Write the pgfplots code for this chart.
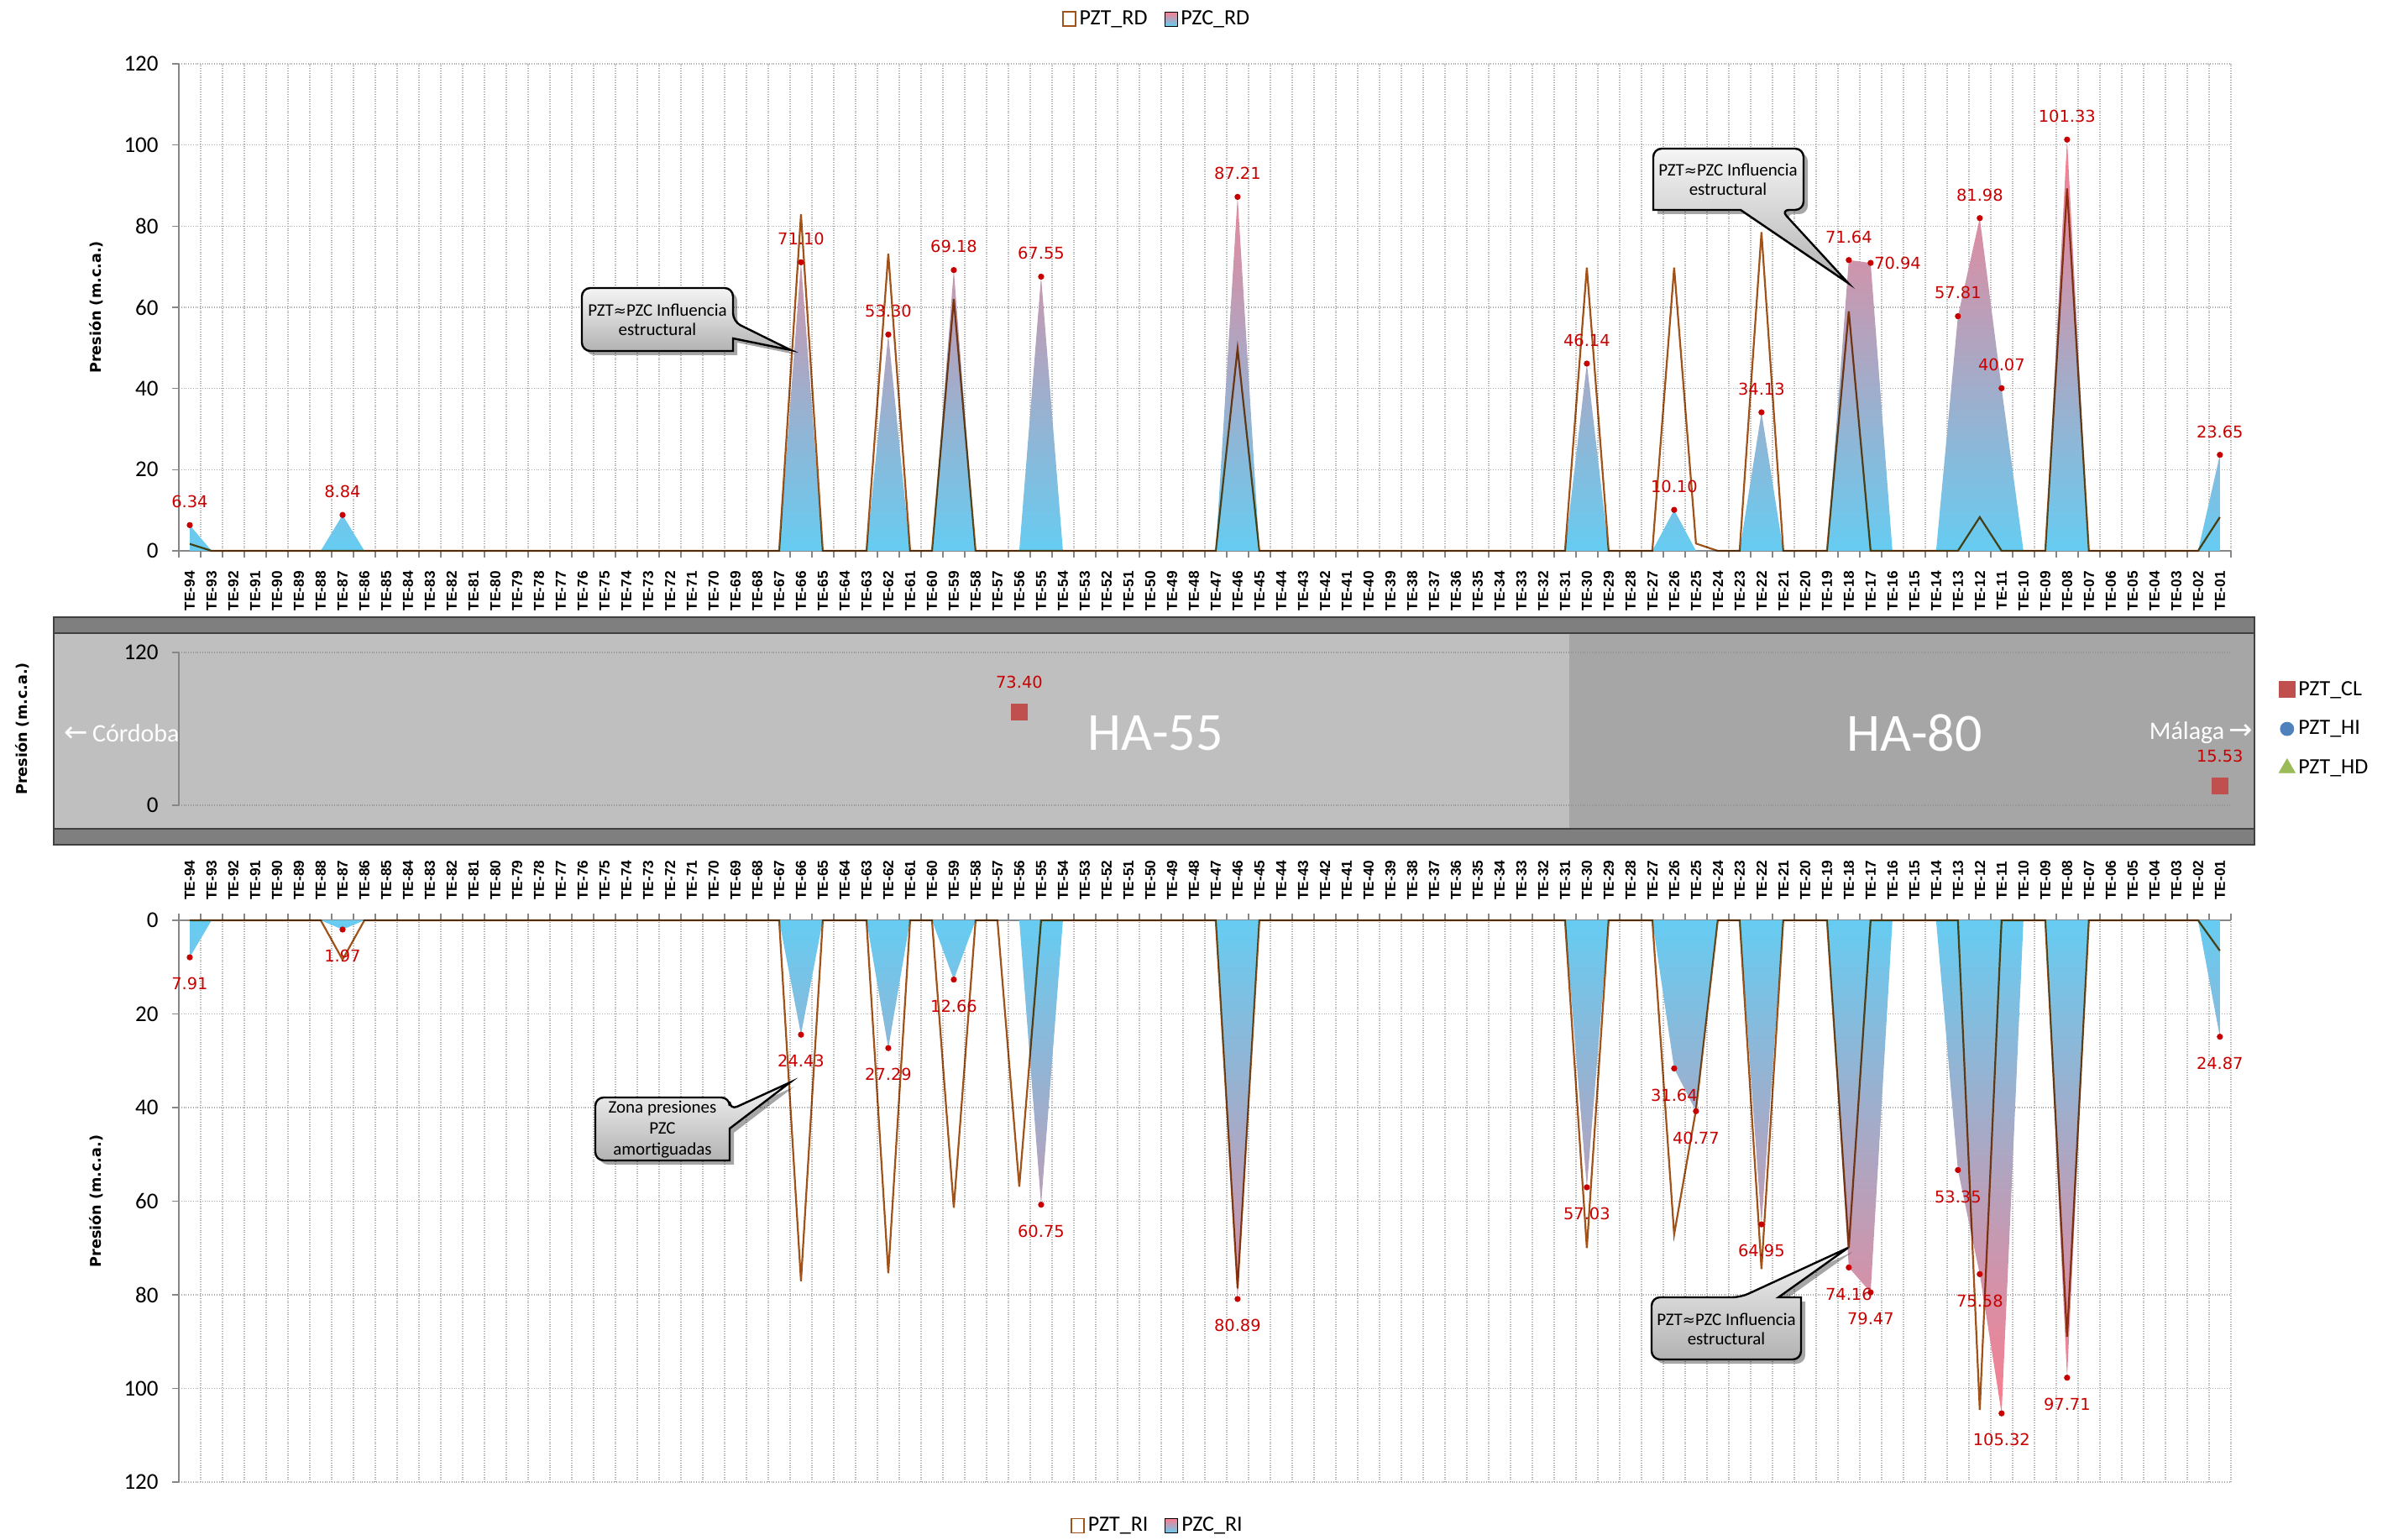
\documentclass[border=0pt]{standalone}
\usepackage{pgfplots}
\pgfplotsset{compat=1.18}
\usepackage{pgfplotstable}
\usepackage{fontspec}
\setmainfont{Carlito}
\newfontfamily\dejavu{DejaVu Sans}
\newfontfamily\arialfont{Liberation Sans}
\usetikzlibrary{shadows}

\definecolor{brownline}{RGB}{160,82,24}
\definecolor{lblred}{RGB}{200,0,0}
\definecolor{gridc}{RGB}{170,170,170}
\definecolor{axisc}{RGB}{134,134,134}
\definecolor{areablue}{RGB}{102,204,242}
\definecolor{arealav}{RGB}{196,192,235}
\definecolor{areapink}{RGB}{250,125,142}
\definecolor{clred}{RGB}{192,80,77}
\definecolor{hiblue}{RGB}{79,129,189}
\definecolor{hdgreen}{RGB}{155,187,89}
\definecolor{bandlight}{RGB}{191,191,191}
\definecolor{banddark}{RGB}{166,166,166}
\definecolor{stripe}{RGB}{127,127,127}

% i = position of the section, 0 = TE-94 ... 93 = TE-01
% rdc = PZC_RD, rdt = PZT_RD, ric = PZC_RI, rit = PZT_RI
\pgfplotstableread{
i rdc rdt ric rit
0 6.34 1.7 7.91 0
1 0 0 0 0
2 0 0 0 0
3 0 0 0 0
4 0 0 0 0
5 0 0 0 0
6 0 0 0 0
7 8.84 0 1.97 8.4
8 0 0 0 0
9 0 0 0 0
10 0 0 0 0
11 0 0 0 0
12 0 0 0 0
13 0 0 0 0
14 0 0 0 0
15 0 0 0 0
16 0 0 0 0
17 0 0 0 0
18 0 0 0 0
19 0 0 0 0
20 0 0 0 0
21 0 0 0 0
22 0 0 0 0
23 0 0 0 0
24 0 0 0 0
25 0 0 0 0
26 0 0 0 0
27 0 0 0 0
28 71.10 82.9 24.43 77.1
29 0 0 0 0
30 0 0 0 0
31 0 0 0 0
32 53.30 73.2 27.29 75.4
33 0 0 0 0
34 0 0 0 0
35 69.18 62.0 12.66 61.4
36 0 0 0 0
37 0 0 0 0
38 0 0 0 56.9
39 67.55 0 60.75 0
40 0 0 0 0
41 0 0 0 0
42 0 0 0 0
43 0 0 0 0
44 0 0 0 0
45 0 0 0 0
46 0 0 0 0
47 0 0 0 0
48 87.21 49.8 80.89 78.6
49 0 0 0 0
50 0 0 0 0
51 0 0 0 0
52 0 0 0 0
53 0 0 0 0
54 0 0 0 0
55 0 0 0 0
56 0 0 0 0
57 0 0 0 0
58 0 0 0 0
59 0 0 0 0
60 0 0 0 0
61 0 0 0 0
62 0 0 0 0
63 0 0 0 0
64 46.14 69.8 57.03 70.0
65 0 0 0 0
66 0 0 0 0
67 0 0 0 0
68 10.10 69.8 31.64 67.1
69 0 1.8 40.77 40.5
70 0 0 0 0
71 0 0 0 0
72 34.13 78.5 64.95 74.5
73 0 0 0 0
74 0 0 0 0
75 0 0 0 0
76 71.64 59.0 74.16 70.0
77 70.94 0 79.47 0
78 0 0 0 0
79 0 0 0 0
80 0 0 0 0
81 57.81 0 53.35 0
82 81.98 8.3 75.58 104.6
83 40.07 0 105.32 0
84 0 0 0 0
85 0 0 0 0
86 101.33 89.3 97.71 89.0
87 0 0 0 0
88 0 0 0 0
89 0 0 0 0
90 0 0 0 0
91 0 0 0 0
92 0 0 0 0
93 23.65 8.3 24.87 6.5
}\datatab

% labelled PZC_RD points
\pgfplotstableread{
i v
0 6.34
7 8.84
28 71.10
32 53.30
35 69.18
39 67.55
48 87.21
64 46.14
68 10.10
72 34.13
76 71.64
81 57.81
82 81.98
83 40.07
86 101.33
93 23.65
}\rdlabels

% labelled PZC_RI points
\pgfplotstableread{
i v
0 7.91
7 1.97
28 24.43
32 27.29
35 12.66
39 60.75
48 80.89
64 57.03
68 31.64
69 40.77
72 64.95
76 74.16
77 79.47
81 53.35
82 75.58
83 105.32
86 97.71
93 24.87
}\rilabels

\tikzset{labelfont/.style={font=\dejavu\fontsize{9.7}{10}\selectfont, text=lblred, inner sep=0pt},
  telabel/.style={rotate=90, inner sep=0pt, font=\arialfont\bfseries\fontsize{8.6}{9}\selectfont}}

\pgfplotsset{
  /pgf/number format/assume math mode=true,
  panel/.style={
    scale only axis, width=1222pt,
    xmin=-0.5, xmax=93.5, ymin=0, ymax=120,
    clip=false,
    axis y line*=left,
    axis line style={axisc, line width=0.8pt},
    xtick={-0.5,0.5,...,93.5}, xticklabels={},
    ytick={0,20,...,120},
    xmajorgrids=true, ymajorgrids=true,
    major grid style={gridc, densely dotted, line width=0.7pt},
    tick align=outside, major tick length=4pt,
    tick style={axisc, line width=0.8pt},
    yticklabel style={font=\fontsize{13.5}{15}\selectfont, inner sep=0pt},
    yticklabel shift=8pt,
    ylabel={Presión (m.c.a.)},
    ylabel style={font=\dejavu\bfseries\fontsize{8.8}{10}\selectfont, at={(axis description cs:-0.0401,0.5)}, anchor=center},
    legend style={draw=none, fill=none, font=\fontsize{13}{15}\selectfont,
      /tikz/every even column/.append style={column sep=8pt}},
    legend columns=2,
  },
  lineimg/.style={legend image code/.code={\draw[brownline, line width=0.9pt, fill=white] (0pt,-4.25pt) rectangle (7.5pt,4.25pt);}},
  areaimg/.style={legend image code/.code={\fill[top color=areapink, bottom color=areablue] (0pt,-4.25pt) rectangle (7.5pt,4.25pt);}},
}

\begin{document}
\begin{tikzpicture}
\useasboundingbox (0,0) rectangle (1425pt,916.5pt);

% band behind the middle panel
\begin{scope}[x=0.5pt,y=-0.5pt,shift={(0pt,916.5pt)}]
  \fill[bandlight] (64,754) rectangle (1869,987);
  \fill[banddark] (1869,754) rectangle (2685,987);
  \fill[stripe] (64,735) rectangle (2685,754);
  \fill[stripe] (64,987) rectangle (2685,1006);
  \draw[black!75, line width=1pt] (64,735) rectangle (2685,1006);
  \draw[black!75, line width=1pt] (64,754) -- (2685,754) (64,987) -- (2685,987);
\end{scope}

% ---------------- upper panel: right side
\begin{axis}[panel, at={(106.5pt,588.5pt)}, anchor=south west, height=290pt,
  axis x line*=bottom,
  legend style={at={(0.4769,1.0922)}, anchor=center}]
\addlegendimage{lineimg}
\addlegendentry{PZT\_RD}
\addlegendimage{areaimg}
\addlegendentry{PZC\_RD}
\addplot[draw=none, top color=areapink, middle color=arealav, bottom color=areablue, forget plot] table[x=i,y=rdc]{\datatab} \closedcycle;
\addplot[brownline, line width=1.1pt, mark=none, blend mode=multiply, forget plot] table[x=i,y=rdt]{\datatab};
\addplot[only marks, mark=*, mark size=1.6pt, lblred, forget plot,
  nodes near coords={\pgfmathprintnumber[fixed,fixed zerofill,precision=2]{\pgfplotspointmeta}},
  nodes near coords style={labelfont, anchor=south, yshift=10pt}] table[x=i,y=v]{\rdlabels};
\addplot[only marks, mark=*, mark size=1.6pt, lblred, forget plot,
  nodes near coords={\pgfmathprintnumber[fixed,fixed zerofill,precision=2]{\pgfplotspointmeta}},
  nodes near coords style={labelfont, anchor=west, xshift=2pt}] coordinates {(77,70.94)};
\end{axis}

% ---------------- middle panel: crown
\begin{axis}[scale only axis, width=1222pt, height=91pt,
  at={(106.5pt,437pt)}, anchor=south west,
  xmin=-0.5, xmax=93.5, ymin=0, ymax=120, clip=false,
  axis x line=none, axis y line*=left,
  axis line style={axisc, line width=0.8pt},
  xtick={-0.5,0.5,...,93.5}, xticklabels={},
  ytick={0,120}, tick align=outside, major tick length=4pt,
  tick style={axisc, line width=0.8pt},
  xmajorgrids=true, ymajorgrids=true,
  major grid style={black!42, densely dotted, line width=0.7pt},
  yticklabel style={font=\fontsize{13.5}{15}\selectfont, inner sep=0pt},
  yticklabel shift=8pt,
  ylabel={Presión (m.c.a.)},
  ylabel style={font=\dejavu\bfseries\fontsize{8.8}{10}\selectfont, at={(axis description cs:-0.0761,0.5)}, anchor=center},
  legend style={at={(1.0209,0.5)}, anchor=west, draw=none, fill=none,
    font=\fontsize{13}{15}\selectfont, row sep=9.5pt},
  legend cell align=left]
\addplot[only marks, mark=square*, mark size=4.75pt, clred,
  nodes near coords={\pgfmathprintnumber[fixed,fixed zerofill,precision=2]{\pgfplotspointmeta}},
  nodes near coords style={labelfont, anchor=south, yshift=13.5pt}]
  coordinates {(38,73.40) (93,15.53)};
\addlegendentry{PZT\_CL}
\addlegendimage{only marks, mark=*, mark size=4pt, hiblue}
\addlegendentry{PZT\_HI}
\addlegendimage{only marks, mark=triangle*, mark size=5.5pt, hdgreen}
\addlegendentry{PZT\_HD}
\end{axis}

% ---------------- lower panel: left side (pressures drawn downwards)
\begin{axis}[panel, at={(106.5pt,34pt)}, anchor=south west, height=334.5pt,
  ymin=-120, ymax=0, axis x line*=top,
  y filter/.expression={-y},
  ytick={-120,-100,...,0},
  yticklabel={\pgfmathparse{abs(\tick)}\pgfmathprintnumber{\pgfmathresult}},
  legend style={at={(0.4773,-0.0777)}, anchor=center}]
\addlegendimage{lineimg}
\addlegendentry{PZT\_RI}
\addlegendimage{areaimg}
\addlegendentry{PZC\_RI}
\addplot[draw=none, top color=areablue, middle color=arealav, bottom color=areapink, forget plot] table[x=i,y=ric]{\datatab} \closedcycle;
\addplot[brownline, line width=1.1pt, mark=none, blend mode=multiply, forget plot] table[x=i,y=rit]{\datatab};
\addplot[only marks, mark=*, mark size=1.6pt, lblred, forget plot, point meta=rawy,
  nodes near coords={\pgfmathprintnumber[fixed,fixed zerofill,precision=2]{\pgfplotspointmeta}},
  nodes near coords style={labelfont, anchor=north, yshift=-12pt}] table[x=i,y=v]{\rilabels};
\end{axis}

% section names, texts on the band and call-outs (page pixels)
\begin{scope}[x=0.5pt,y=-0.5pt,shift={(0pt,916.5pt)}]
  \foreach \i in {0,...,93}{
    \pgfmathtruncatemacro\k{94-\i}
    \node[telabel, anchor=east] at (226+26*\i,680) {TE-\ifnum\k<10 0\fi\k};
    \node[telabel, anchor=west] at (226+26*\i,1072) {TE-\ifnum\k<10 0\fi\k};
  }

  \node[text=white, font=\fontsize{32}{34}\selectfont] at (1376,873) {HA-55};
  \node[text=white, font=\fontsize{32}{34}\selectfont] at (2280,873) {HA-80};
  \node[text=white, font=\fontsize{15}{17}\selectfont, anchor=east, inner sep=0pt] at (214,873) {{\dejavu\fontsize{17}{17}\selectfont ←}\,Córdoba};
  \node[text=white, font=\fontsize{15}{17}\selectfont, anchor=east, inner sep=0pt] at (2683,873) {Málaga\,{\dejavu\fontsize{17}{17}\selectfont →}};

  \tikzset{callout/.style={draw=black, line width=1.2pt, top color=white!96!black, bottom color=white!70!black,
      drop shadow={shadow xshift=2.5pt, shadow yshift=-2.5pt, opacity=0.35, fill=black}},
    callouttext/.style={font=\fontsize{10.5}{11.8}\selectfont, align=center, inner sep=0pt}}

  \path[callout, rounded corners=5pt] (693,343) -- (873,343) -- (873,383) [sharp corners] -- (942,417) -- (873,403) -- (873,418) [rounded corners=5pt] -- (693,418) -- cycle;
  \node[callouttext] at (783,381) {PZT{\dejavu\fontsize{9}{10}\selectfont ≈}PZC Influencia\\estructural};

  \path[callout, rounded corners=5pt] (1969,177) -- (2148,177) -- (2148,250) -- (2121,250) [sharp corners] -- (2201,337) -- (2073,250) -- (1969,250) [rounded corners=5pt] -- cycle;
  \node[callouttext] at (2058,214) {PZT{\dejavu\fontsize{9}{10}\selectfont ≈}PZC Influencia\\estructural};

  \path[callout, rounded corners=5pt] (709,1307) -- (869,1307) -- (869,1322) [sharp corners] -- (941,1289) -- (869,1344) -- (869,1382) [rounded corners=5pt] -- (709,1382) -- cycle;
  \node[callouttext, font=\fontsize{10.5}{12.5}\selectfont] at (789,1345) {Zona presiones\\PZC\\amortiguadas};

  \path[callout, rounded corners=5pt] (1967,1545) -- (2073,1545) [sharp corners] -- (2201,1486) -- (2118,1545) -- (2145,1545) [rounded corners=5pt] -- (2145,1619) -- (1967,1619) -- cycle;
  \node[callouttext] at (2056,1583) {PZT{\dejavu\fontsize{9}{10}\selectfont ≈}PZC Influencia\\estructural};
\end{scope}
\end{tikzpicture}
\end{document}
